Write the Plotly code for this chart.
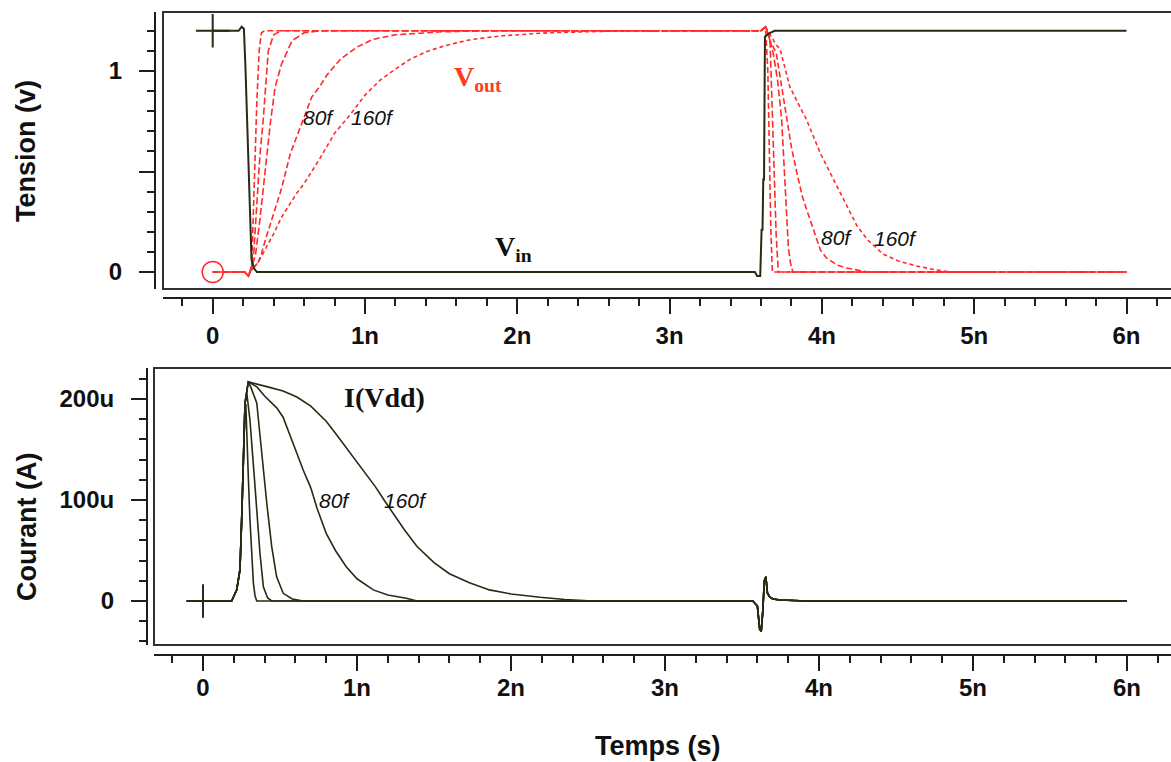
import plotly.graph_objects as go

W, H = 1171, 762

# ---------------- data (time in ns, voltage in V, current in uA) ----------------
vin_t = [0, 0.17, 0.19, 0.205, 0.215, 0.22, 0.225, 0.235, 0.24, 0.25, 0.255, 0.27, 0.29,
         3.56, 3.575, 3.595, 3.604, 3.61, 3.615, 3.62, 3.626, 3.64, 3.66, 3.69, 3.72, 6.0]
vin_v = [1.2, 1.2, 1.22, 1.21, 1.02, 0.9, 0.77, 0.5, 0.39, 0.2, 0.06, 0.02, 0.0,
         0.0, -0.02, -0.02, 0.21, 0.21, 0.46, 0.46, 1.17, 1.18, 1.19, 1.2, 1.2, 1.2]

vout_pre_t = [0, 0.21, 0.235]
vout_pre_v = [0, 0.0, -0.02]

vout1_rise_t = [0.245, 0.256, 0.265, 0.278, 0.29, 0.305, 0.32, 0.34]
vout1_rise_v = [0.0, 0.03, 0.25, 0.59, 0.85, 1.1, 1.19, 1.2]
vout1_fall_t = [3.60, 3.63, 3.645, 3.655, 3.665, 3.675, 6.0]
vout1_fall_v = [1.2, 1.22, 1.0, 0.6, 0.2, 0.0, 0.0]

vout2_rise_t = [0.245, 0.27, 0.29, 0.31, 0.332, 0.35, 0.365, 0.40, 0.45]
vout2_rise_v = [0.0, 0.1, 0.35, 0.58, 0.76, 0.95, 1.1, 1.18, 1.2]
vout2_fall_t = [3.60, 3.63, 3.659, 3.67, 3.681, 3.69, 3.70, 3.714, 6.0]
vout2_fall_v = [1.2, 1.22, 1.16, 0.9, 0.59, 0.38, 0.18, 0.0, 0.0]

vout3_rise_t = [0.245, 0.28, 0.31, 0.354, 0.38, 0.41, 0.45, 0.52, 0.60, 0.70]
vout3_rise_v = [0.0, 0.08, 0.26, 0.59, 0.75, 0.92, 1.03, 1.15, 1.19, 1.2]
vout3_fall_t = [3.60, 3.63, 3.66, 3.68, 3.71, 3.736, 3.75, 3.765, 3.78, 3.795, 3.81, 6.0]
vout3_fall_v = [1.2, 1.22, 1.15, 1.09, 0.95, 0.756, 0.55, 0.3, 0.12, 0.04, 0.0, 0.0]

vout80_rise_t = [0.245, 0.30, 0.32, 0.35, 0.387, 0.45, 0.51, 0.55, 0.60, 0.65, 0.70, 0.75,
                 0.84, 0.95, 1.05, 1.2, 1.5, 1.8]
vout80_rise_v = [0.0, 0.05, 0.09, 0.17, 0.26, 0.41, 0.59, 0.67, 0.78, 0.87, 0.92, 0.98,
                 1.06, 1.12, 1.157, 1.18, 1.195, 1.2]
vout80_fall_t = [3.60, 3.63, 3.66, 3.70, 3.73, 3.77, 3.80, 3.834, 3.87, 3.90, 3.94, 3.99,
                 4.03, 4.1, 4.16, 4.25, 4.3, 6.0]
vout80_fall_v = [1.2, 1.22, 1.15, 1.09, 0.95, 0.756, 0.62, 0.5, 0.38, 0.31, 0.22, 0.11,
                 0.07, 0.035, 0.02, 0.005, 0.0, 0.0]

vout160_rise_t = [0.245, 0.30, 0.35, 0.40, 0.45, 0.50, 0.55, 0.60, 0.70, 0.80, 0.90, 1.0,
                  1.1, 1.2, 1.3, 1.4, 1.5, 1.6, 1.7, 1.9, 2.2, 2.6, 3.0]
vout160_rise_v = [0.0, 0.05, 0.12, 0.19, 0.27, 0.33, 0.39, 0.44, 0.56, 0.69, 0.78, 0.88,
                  0.955, 1.01, 1.06, 1.095, 1.12, 1.14, 1.157, 1.175, 1.19, 1.198, 1.2]
vout160_fall_t = [3.60, 3.63, 3.66, 3.70, 3.725, 3.79, 3.85, 3.90, 3.99, 4.075, 4.16, 4.23,
                  4.30, 4.40, 4.50, 4.62, 4.75, 4.85, 6.0]
vout160_fall_v = [1.2, 1.22, 1.18, 1.13, 1.11, 0.92, 0.83, 0.756, 0.59, 0.46, 0.33, 0.23,
                  0.16, 0.09, 0.055, 0.03, 0.01, 0.0, 0.0]

idd_pre_t = [0, 0.186, 0.219, 0.24, 0.251, 0.262]
idd_pre_i = [0, 0, 11, 31, 80, 146]

idd1_t = [0.272, 0.278, 0.284, 0.295, 0.305, 0.316, 0.327, 0.338, 0.349]
idd1_i = [190, 195, 163, 120, 80, 45, 18, 5, 0]
idd2_t = [0.273, 0.285, 0.305, 0.338, 0.37, 0.392, 0.42, 0.446]
idd2_i = [196, 205, 179, 113, 47, 14, 3, 0]
idd3_t = [0.273, 0.294, 0.31, 0.349, 0.381, 0.414, 0.446, 0.478, 0.521, 0.58, 0.651]
idd3_i = [196, 217, 212, 196, 146, 97, 54, 24, 7.6, 2, 0]
idd80_t = [0.273, 0.294, 0.35, 0.40, 0.45, 0.48, 0.52, 0.565, 0.61, 0.65, 0.70, 0.74, 0.80,
           0.86, 0.93, 1.0, 1.106, 1.2, 1.32, 1.39]
idd80_i = [196, 217, 212, 203, 196, 191, 182, 163, 146, 130, 112, 92, 67,
           50, 34, 22, 11, 6, 2.7, 0]
idd160_t = [0.273, 0.294, 0.35, 0.42, 0.52, 0.61, 0.70, 0.75, 0.80, 0.86, 0.93, 1.0, 1.06,
            1.12, 1.18, 1.236, 1.31, 1.39, 1.5, 1.6, 1.73, 1.86, 2.0, 2.19, 2.35, 2.53]
idd160_i = [196, 217, 215, 212, 208, 202, 193, 186, 178, 166, 152, 138, 126,
            113, 99, 86, 70, 54, 38, 27, 18, 11, 7, 3.7, 1.5, 0]

idd_tail_t = [3.57, 3.60, 3.615, 3.625, 3.635, 3.645, 3.655, 3.665, 3.68, 3.70, 3.75, 3.92, 6.0]
idd_tail_i = [0, -5, -28, -30, -10, 20, 24, 8, 4, 2, 1, 0, 0]

x_tick_vals = [0, 1, 2, 3, 4, 5, 6]
x_tick_text = ["0", "1n", "2n", "3n", "4n", "5n", "6n"]
v_tick_vals = [0, 0.5, 1]
v_tick_text = ["0", " ", "1"]
i_tick_vals = [0, 100, 200]
i_tick_text = ["0", "100u", "200u"]

# ---------------- figure ----------------
RED = "#ff2b2b"
DARK = "#2a2a14"
AX = "#1e1e1e"
SANS = "Liberation Sans, Arial, sans-serif"
SERIF = "Liberation Serif, Times New Roman, serif"

def px(x):
    return x / W

def py(y):
    return 1 - y / H

fig = go.Figure()

vout_sets = [
    (vout1_rise_t, vout1_rise_v, vout1_fall_t, vout1_fall_v, "6px,3px"),
    (vout2_rise_t, vout2_rise_v, vout2_fall_t, vout2_fall_v, "7px,3px"),
    (vout3_rise_t, vout3_rise_v, vout3_fall_t, vout3_fall_v, "7px,3px"),
    (vout80_rise_t, vout80_rise_v, vout80_fall_t, vout80_fall_v, "6px,3px"),
    (vout160_rise_t, vout160_rise_v, vout160_fall_t, vout160_fall_v, "4px,3px"),
]
for rt, rv, ft, fv, dash in vout_sets:
    fig.add_trace(go.Scatter(
        x=vout_pre_t + rt + ft, y=vout_pre_v + rv + fv, mode="lines",
        line=dict(color=RED, width=1.6, dash=dash), xaxis="x", yaxis="y",
        showlegend=False, hoverinfo="skip"))

fig.add_trace(go.Scatter(x=vin_t, y=vin_v, mode="lines",
                         line=dict(color=DARK, width=2), xaxis="x", yaxis="y",
                         showlegend=False, hoverinfo="skip"))

# cursor markers
fig.add_trace(go.Scatter(x=[0], y=[1.2], mode="markers",
                         marker=dict(symbol="cross-thin-open", size=24, color=DARK,
                                     line=dict(color=DARK, width=2)),
                         xaxis="x", yaxis="y", showlegend=False, hoverinfo="skip"))
fig.add_trace(go.Scatter(x=[0], y=[0], mode="markers",
                         marker=dict(symbol="circle-open", size=21, color=RED,
                                     line=dict(color=RED, width=1.5)),
                         xaxis="x", yaxis="y", showlegend=False, hoverinfo="skip"))

idd_sets = [(idd1_t, idd1_i), (idd2_t, idd2_i), (idd3_t, idd3_i),
            (idd80_t, idd80_i), (idd160_t, idd160_i)]
for t, i in idd_sets:
    fig.add_trace(go.Scatter(
        x=idd_pre_t + t + idd_tail_t, y=idd_pre_i + i + idd_tail_i, mode="lines",
        line=dict(color=DARK, width=1.6), xaxis="x2", yaxis="y2",
        showlegend=False, hoverinfo="skip"))

fig.add_trace(go.Scatter(x=[0], y=[0], mode="markers",
                         marker=dict(symbol="cross-thin-open", size=24, color=DARK,
                                     line=dict(color=DARK, width=2)),
                         xaxis="x2", yaxis="y2", showlegend=False, hoverinfo="skip"))

tickfont = dict(family=SANS, size=24, color="#111", weight="bold")
common_ax = dict(showgrid=False, zeroline=False, showline=True, linewidth=2,
                 linecolor=AX, ticks="outside", ticklen=15, tickwidth=2,
                 tickcolor=AX, tickfont=tickfont, fixedrange=True)

# panel geometry (pixels)
T_L, T_T, T_B = 163, 12, 289
B_L, B_T, B_B = 154, 368, 645

fig.update_layout(
    width=W, height=H, margin=dict(l=0, r=0, t=0, b=0), autosize=False,
    paper_bgcolor="white", plot_bgcolor="white",
    xaxis=dict(domain=[px(T_L), 1], range=[(T_L - 212.7) / 152.3, (W - 212.7) / 152.3],
               anchor="free", position=py(298), side="bottom",
               tickmode="array", tickvals=x_tick_vals, ticktext=x_tick_text,
               minor=dict(ticks="outside", ticklen=7, tickwidth=2, tickcolor=AX,
                          tickmode="linear", tick0=0, dtick=0.2),
               ticklabelstandoff=1, **common_ax),
    yaxis=dict(domain=[py(T_B), py(T_T)], range=[-(T_B - 272) / 201, (272 - T_T) / 201],
               anchor="free", position=px(155), side="left",
               tickmode="array", tickvals=v_tick_vals, ticktext=v_tick_text,
               minor=dict(ticks="outside", ticklen=7, tickwidth=2, tickcolor=AX,
                          tickmode="linear", tick0=0, dtick=0.1),
               ticklabelstandoff=12, **common_ax),
    xaxis2=dict(domain=[px(B_L), 1], range=[(B_L - 203) / 154, (W - 203) / 154],
                anchor="free", position=py(655), side="bottom",
                tickmode="array", tickvals=x_tick_vals, ticktext=x_tick_text,
                minor=dict(ticks="outside", ticklen=7, tickwidth=2, tickcolor=AX,
                           tickmode="linear", tick0=0, dtick=0.2),
                ticklabelstandoff=-4, **common_ax),
    yaxis2=dict(domain=[py(B_B), py(B_T)], range=[-(B_B - 601) / 1.01, (601 - B_T) / 1.01],
                anchor="free", position=px(147), side="left",
                tickmode="array", tickvals=i_tick_vals, ticktext=i_tick_text,
                minor=dict(ticks="outside", ticklen=7, tickwidth=2, tickcolor=AX,
                           tickmode="linear", tick0=0, dtick=20),
                ticklabelstandoff=12, **common_ax),
)

# plot frames
for (l, t, b) in [(T_L, T_T, T_B), (B_L, B_T, B_B)]:
    fig.add_shape(type="rect", xref="paper", yref="paper",
                  x0=px(l), x1=1.02, y0=py(b), y1=py(t),
                  line=dict(color="#303030", width=2), layer="above")

def ann(text, x, y, size, color="#111", family=SANS, angle=0):
    fig.add_annotation(text=text, x=px(x), y=py(y), xref="paper", yref="paper",
                       xanchor="center", yanchor="middle", showarrow=False,
                       textangle=angle, font=dict(family=family, size=size, color=color))

ann("<b>Tension (v)</b>", 26, 151, 27, angle=-90)
ann("<b>Courant (A)</b>", 27, 527, 27, angle=-90)
ann("<b>Temps (s)</b>", 658, 746, 27)

ann("<b>V<sub>out</sub></b>", 478, 78, 28, color="#ff3a1f", family=SERIF)
ann("<b>V<sub>in</sub></b>", 513, 249, 28, color="#111", family=SERIF)
ann("<b>I(Vdd)</b>", 384, 397, 28, color="#111", family=SERIF)

for text, x, y in [("80f", 318, 118), ("160f", 372, 118), ("80f", 837, 237),
                   ("160f", 895, 238), ("80f", 334, 500), ("160f", 405, 500)]:
    ann("<i>%s</i>" % text, x, y, 21)

fig.write_html("out.html")
